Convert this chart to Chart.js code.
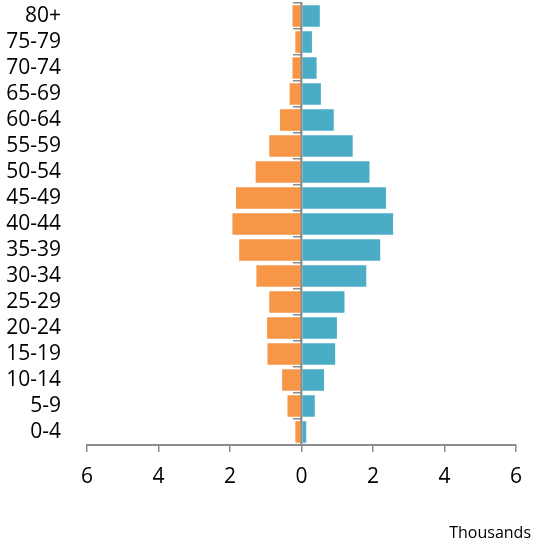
<!DOCTYPE html>
<html>
<head>
<meta charset="utf-8">
<script src="https://cdn.jsdelivr.net/npm/chart.js@4"></script>
<style>
  html, body { margin: 0; padding: 0; background: #fff; }
  #wrap { width: 538px; height: 546px; position: relative; }
</style>
</head>
<body>
<div id="wrap"><canvas id="c" width="538" height="546"></canvas></div>
<script>
const ageGroups = ['80+', '75-79', '70-74', '65-69', '60-64', '55-59', '50-54', '45-49', '40-44', '35-39', '30-34', '25-29', '20-24', '15-19', '10-14', '5-9', '0-4'];
const leftSeries = [0.28, 0.20, 0.28, 0.36, 0.63, 0.93, 1.31, 1.86, 1.96, 1.77, 1.29, 0.93, 0.99, 0.98, 0.57, 0.42, 0.20];
const rightSeries = [0.54, 0.32, 0.45, 0.57, 0.93, 1.46, 1.93, 2.39, 2.59, 2.23, 1.84, 1.23, 1.02, 0.97, 0.66, 0.40, 0.16];
const xTicks = [-6, -4, -2, 0, 2, 4, 6];
const unitLabel = 'Thousands';

const FONT = "'Open Sans', 'Liberation Sans', sans-serif";
const AXIS_GREY = '#8c8c8c';

const unitPlugin = {
  id: 'unitLabel',
  afterDraw(chart) {
    const ctx = chart.ctx;
    ctx.save();
    ctx.font = "16px " + FONT;
    ctx.fillStyle = '#000';
    ctx.textAlign = 'right';
    ctx.textBaseline = 'alphabetic';
    ctx.fillText(unitLabel, 531, 538);
    ctx.restore();
  }
};

new Chart(document.getElementById('c'), {
  type: 'bar',
  data: {
    labels: ageGroups,
    datasets: [
      {
        label: 'left',
        data: leftSeries.map(v => -v),
        backgroundColor: '#F79646',
        borderColor: 'rgba(255,255,255,0.55)',
        borderWidth: 1,
        borderSkipped: 'start',
        barPercentage: 0.9,
        categoryPercentage: 1.0
      },
      {
        label: 'right',
        data: rightSeries,
        backgroundColor: '#4BACC6',
        borderColor: 'rgba(255,255,255,0.55)',
        borderWidth: 1,
        borderSkipped: 'start',
        barPercentage: 0.9,
        categoryPercentage: 1.0
      }
    ]
  },
  options: {
    indexAxis: 'y',
    responsive: false,
    animation: false,
    devicePixelRatio: 1,
    layout: { padding: { left: 0, right: 22, top: 3, bottom: 0 } },
    plugins: {
      legend: { display: false },
      tooltip: { enabled: false },
      title: { display: false }
    },
    scales: {
      x: {
        type: 'linear',
        position: 'bottom',
        stacked: true,
        min: -6,
        max: 6,
        afterBuildTicks(scale) { scale.ticks = xTicks.map(v => ({ value: v })); },
        afterFit(scale) { scale.height = 101; scale.paddingLeft = 0; scale.paddingRight = 0; },
        ticks: {
          callback: v => String(Math.abs(v)),
          font: { family: FONT, size: 21 },
          color: '#000',
          padding: 12,
          maxRotation: 0,
          autoSkip: false
        },
        grid: {
          display: true,
          drawOnChartArea: false,
          drawTicks: true,
          tickLength: 7,
          color: AXIS_GREY,
          lineWidth: 1.5
        },
        border: { display: true, color: AXIS_GREY, width: 2 }
      },
      y: {
        type: 'category',
        position: 'left',
        stacked: true,
        afterFit(scale) { scale.width = 87; scale.paddingTop = 0; scale.paddingBottom = 0; },
        ticks: {
          font: { family: FONT, size: 21 },
          color: '#000',
          padding: 18,
          autoSkip: false
        },
        grid: { display: false },
        border: { display: false }
      },
      yc: {
        type: 'category',
        labels: ageGroups,
        position: { x: 0 },
        z: 1,
        ticks: { display: false },
        grid: {
          display: true,
          offset: true,
          drawOnChartArea: false,
          drawTicks: true,
          tickLength: 7,
          color: AXIS_GREY,
          lineWidth: 1.5
        },
        border: { display: true, color: AXIS_GREY, width: 2.5 }
      }
    }
  },
  plugins: [unitPlugin]
});
</script>
</body>
</html>
